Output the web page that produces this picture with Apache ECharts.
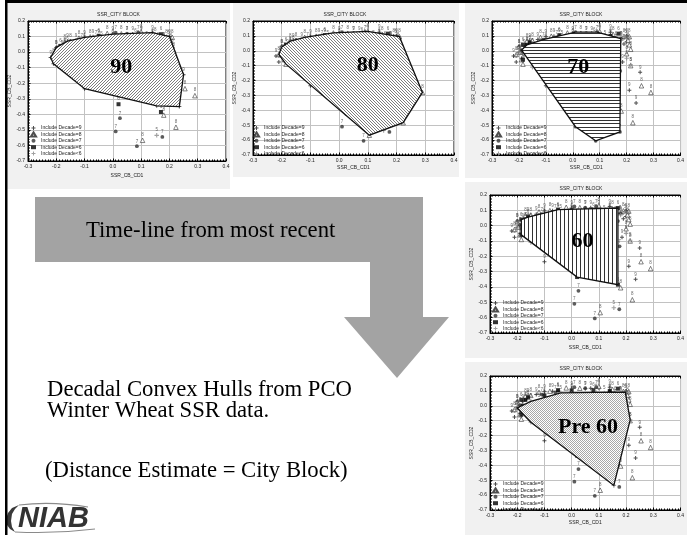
<!DOCTYPE html>
<html>
<head>
<meta charset="utf-8">
<script src="https://cdn.jsdelivr.net/npm/echarts@6/dist/echarts.min.js"></script>
<style>
  html, body { margin: 0; padding: 0; background: #fff; overflow: hidden; }
  #chart { width: 687px; height: 535px; }
</style>
</head>
<body>
<div id="chart"></div>
<script>
// PCO scores (SSR_CB_CD1, SSR_CB_CD2) of the winter wheat varieties, grouped by decade
const decade9 = [
  [-0.22, -0.035], [-0.21, -0.075], [-0.10, -0.235], [0.155, -0.345], [0.235, -0.35], [0.25, -0.145],
  [0.20, 0.10], [0.14, 0.125], [0.0, 0.115], [-0.10, 0.095], [-0.16, 0.07], [-0.20, 0.03],
  [-0.19, -0.05], [-0.20, -0.01], [-0.18, 0.03], [-0.13, 0.075], [-0.07, 0.098], [-0.05, 0.10],
  [0.05, 0.115], [0.07, 0.117], [0.10, 0.118], [0.18, 0.08], [0.19, 0.045], [0.20, 0.06],
  [0.185, -0.075], [0.21, -0.265]
];
const decade8 = [
  [-0.21, -0.025], [-0.185, -0.09], [0.105, -0.567], [0.223, -0.483], [0.29, -0.28], [0.21, 0.095],
  [0.10, 0.13], [-0.02, 0.12], [-0.12, 0.09], [-0.17, 0.065], [-0.20, 0.025],
  [0.255, -0.235], [0.18, -0.405], [0.215, -0.10], [0.205, 0.07], [0.21, 0.04], [0.215, 0.01],
  [0.20, -0.02], [-0.19, -0.06], [-0.195, -0.01], [-0.15, 0.07], [-0.08, 0.098], [0.03, 0.118],
  [0.15, 0.11], [0.19, 0.097]
];
const decade7 = [
  [-0.19, 0.005], [0.01, -0.51], [0.085, -0.605], [0.175, -0.545], [0.178, 0.082], [0.09, 0.125],
  [0.01, 0.125], [-0.11, 0.075], [-0.17, 0.04],
  [0.025, -0.425], [-0.14, -0.10], [0.176, -0.135], [-0.17, 0.0], [-0.06, 0.09], [0.05, 0.118],
  [0.14, 0.097], [0.16, 0.06], [0.17, 0.03]
];
const decade6 = [
  [-0.185, 0.04], [-0.185, -0.06], [0.02, -0.335], [0.17, -0.385], [0.17, 0.115], [-0.05, 0.105],
  [-0.16, 0.055],
  [-0.18, 0.0], [-0.17, 0.04], [-0.10, 0.07], [0.0, 0.10], [0.08, 0.105], [0.14, 0.10], [0.16, 0.08]
];
const decadePre6 = [
  [-0.20, -0.015], [-0.15, -0.11], [0.155, -0.535], [0.215, -0.095], [0.197, 0.092], [0.09, 0.09],
  [-0.04, 0.087], [-0.15, 0.03],
  [-0.18, -0.03], [-0.12, 0.03], [0.0, 0.08], [0.12, 0.085], [0.18, 0.07], [0.20, -0.05], [0.10, -0.20]
];

const decadeSets = [decade9, decade8, decade7, decade6, decadePre6];
const decadeNames = ['Include Decade=9', 'Include Decade=8', 'Include Decade=7', 'Include Decade=6', 'Include Decade<6'];
const decadeTags = ['9', '8', '7', '6', '5'];
const hullTitles = ['90', '80', '70', '60', 'Pre 60'];

const xRange = { min: -0.3, max: 0.4, interval: 0.1 };
const yRange = { min: -0.7, max: 0.2, interval: 0.1 };

// ---- layout of the five panels ----
const panels = [
  { grid: { left: 28, top: 21, width: 198, height: 140 }, bg: [7, 3, 223, 186], title: [118.5, 15], legend: [30, 125], labelAt: [0.03, -0.095], nameGapX: 12, fill: 'slashA' },
  { grid: { left: 253, top: 21, width: 201, height: 134 }, bg: [233, 3, 226, 174], title: [345, 15], legend: [253, 125], labelAt: [0.10, -0.095], nameGapX: 10, fill: 'slashB' },
  { grid: { left: 492, top: 21, width: 197, height: 134 }, bg: [465, 3, 230, 175], title: [581, 15], legend: [495, 125], labelAt: [0.02, -0.11], nameGapX: 10, fill: 'horiz' },
  { grid: { left: 490, top: 195, width: 199, height: 138 }, bg: [465, 182, 230, 176], title: [581, 189], legend: [492, 300], labelAt: [0.04, -0.105], nameGapX: 12, fill: 'vert' },
  { grid: { left: 490, top: 376, width: 199, height: 134 }, bg: [465, 362, 230, 175], title: [581, 369], legend: [492, 481], labelAt: [0.06, -0.145], nameGapX: 10, fill: 'dots' }
];

// ---- hatch tiles for the hull fills ----
function tile(w, h, draw) {
  const c = document.createElement('canvas');
  c.width = w; c.height = h;
  const g = c.getContext('2d');
  g.fillStyle = '#fff';
  g.fillRect(0, 0, w, h);
  draw(g);
  return { image: c, repeat: 'repeat' };
}
const fills = {
  slashA: tile(3, 3, g => { g.fillStyle = '#7c7c7c'; g.fillRect(2, 0, 1, 1); g.fillRect(1, 1, 1, 1); g.fillRect(0, 2, 1, 1); }),
  slashB: tile(3, 3, g => { g.fillStyle = '#7c7c7c'; g.fillRect(0, 0, 1, 1); g.fillRect(1, 1, 1, 1); g.fillRect(2, 2, 1, 1); }),
  horiz: tile(4, 10, g => { g.fillStyle = '#333'; g.fillRect(0, 0, 4, 1); g.fillRect(0, 3, 4, 1); g.fillRect(0, 7, 4, 1); }),
  vert: tile(4, 4, g => { g.fillStyle = '#333'; g.fillRect(0, 0, 1, 4); }),
  dots: tile(2, 2, g => { g.fillStyle = '#a8a8a8'; g.fillRect(0, 0, 1, 1); g.fillRect(1, 1, 1, 1); })
};

// ---- convex hull (monotone chain) ----
function convexHull(points) {
  const p = points.slice().sort((a, b) => a[0] - b[0] || a[1] - b[1]);
  const cross = (o, a, b) => (a[0] - o[0]) * (b[1] - o[1]) - (a[1] - o[1]) * (b[0] - o[0]);
  const lower = [], upper = [];
  for (const q of p) {
    while (lower.length >= 2 && cross(lower[lower.length - 2], lower[lower.length - 1], q) <= 0) lower.pop();
    lower.push(q);
  }
  for (let i = p.length - 1; i >= 0; i--) {
    const q = p[i];
    while (upper.length >= 2 && cross(upper[upper.length - 2], upper[upper.length - 1], q) <= 0) upper.pop();
    upper.push(q);
  }
  lower.pop(); upper.pop();
  return lower.concat(upper);
}

// ---- marker styles per decade ----
const markerStyles = [
  { symbol: 'path://M3,0H5V3H8V5H5V8H3V5H0V3H3Z', symbolSize: 4, itemStyle: { color: '#222' } },
  { symbol: 'triangle', symbolSize: 4.5, itemStyle: { color: '#fff', borderColor: '#222', borderWidth: 0.7 } },
  { symbol: 'circle', symbolSize: 3.8, itemStyle: { color: '#333' } },
  { symbol: 'rect', symbolSize: 4, itemStyle: { color: '#000' } },
  { symbol: 'path://M3,0H5V3H8V5H5V8H3V5H0V3H3Z', symbolSize: 4.5, itemStyle: { color: '#8a8a8a' } }
];

const axisFont = { fontFamily: 'Liberation Sans', fontSize: 5, color: '#222' };

const grids = [], xAxes = [], yAxes = [], series = [], legends = [];

panels.forEach((pn, i) => {
  grids.push(Object.assign({ show: true, backgroundColor: '#fff', borderColor: '#000', borderWidth: 1 }, pn.grid));
  xAxes[i] = {
    gridIndex: i, type: 'value', min: xRange.min, max: xRange.max, interval: xRange.interval,
    name: 'SSR_CB_CD1', nameLocation: 'middle', nameGap: pn.nameGapX, nameTextStyle: axisFont,
    axisLine: { onZero: false, lineStyle: { color: '#000', width: 1 } },
    axisTick: { inside: true, length: 2.5, lineStyle: { color: '#000' } },
    minorTick: { show: true, splitNumber: 10, length: 1.5, lineStyle: { color: '#000' } },
    axisLabel: Object.assign({ margin: 3, formatter: v => v.toFixed(1) }, axisFont),
    splitLine: { lineStyle: { color: '#c2c2c2', width: 1 } }
  };
  xAxes[i + panels.length] = {
    gridIndex: i, type: 'value', position: 'top', min: xRange.min, max: xRange.max, interval: xRange.interval,
    axisLine: { onZero: false, lineStyle: { color: '#000', width: 1 } },
    axisTick: { inside: true, length: 2.5, lineStyle: { color: '#000' } },
    minorTick: { show: true, splitNumber: 10, length: 1.5, lineStyle: { color: '#000' } },
    axisLabel: { show: false }, splitLine: { show: false }
  };
  yAxes[i] = {
    gridIndex: i, type: 'value', min: yRange.min, max: yRange.max, interval: yRange.interval,
    name: 'SSR_CB_CD2', nameLocation: 'middle', nameRotate: 90, nameGap: 13, nameTextStyle: axisFont,
    axisLine: { onZero: false, lineStyle: { color: '#000', width: 1 } },
    axisTick: { inside: true, length: 2.5, lineStyle: { color: '#000' } },
    minorTick: { show: true, splitNumber: 10, length: 1.5, lineStyle: { color: '#000' } },
    axisLabel: Object.assign({ margin: 3, formatter: v => v.toFixed(1) }, axisFont),
    splitLine: { lineStyle: { color: '#c2c2c2', width: 1 } }
  };

  decadeSets.forEach((pts, d) => {
    series.push(Object.assign({
      type: 'scatter', name: decadeNames[d], xAxisIndex: i, yAxisIndex: i, data: pts,
      silent: true, animation: false, z: 2,
      label: { show: true, formatter: decadeTags[d], position: 'top', distance: 0.5,
               fontFamily: 'Liberation Sans', fontSize: 4.5, color: '#444' }
    }, markerStyles[d]));
  });

  const hull = convexHull(decadeSets[i]);
  series.push({
    type: 'custom', name: 'hull' + hullTitles[i], xAxisIndex: i, yAxisIndex: i, data: hull,
    silent: true, animation: false, z: 5, clip: false,
    renderItem: (params, api) => {
      if (params.dataIndex !== 0) return null;
      const pts = hull.map(p => api.coord(p));
      const c = api.coord(pn.labelAt);
      return {
        type: 'group',
        children: [
          { type: 'polygon', shape: { points: pts },
            style: { fill: fills[pn.fill], stroke: '#111', lineWidth: 1.3 } },
          { type: 'text', x: c[0], y: c[1],
            style: { text: hullTitles[i], fill: '#000', font: 'bold 22px "Liberation Serif"',
                     align: 'center', verticalAlign: 'middle' } }
        ]
      };
    }
  });

  legends.push({
    left: pn.legend[0], top: pn.legend[1], orient: 'vertical', padding: 0,
    itemWidth: 5, itemHeight: 4, itemGap: 0.4, selectedMode: false,
    textStyle: { fontFamily: 'Liberation Sans', fontSize: 5, lineHeight: 6, color: '#222' },
    data: decadeNames
  });
});

// ---- slide decorations: panels, frame, arrow, captions, logo ----
const graphics = [];
panels.forEach(pn => {
  graphics.push({ type: 'rect', z: -10, shape: { x: pn.bg[0], y: pn.bg[1], width: pn.bg[2], height: pn.bg[3] },
                  style: { fill: '#f1f1f1' } });
  graphics.push({ type: 'text', x: pn.title[0], y: pn.title[1], z: 10,
                  style: { text: 'SSR_CITY BLOCK', font: '5px "Liberation Sans"', fill: '#222',
                           textAlign: 'center', textVerticalAlign: 'middle' } });
});
graphics.push({ type: 'rect', z: 20, shape: { x: 5, y: 0, width: 682, height: 3 }, style: { fill: '#000' } });
graphics.push({ type: 'rect', z: 20, shape: { x: 5, y: 0, width: 2.5, height: 535 }, style: { fill: '#000' } });
graphics.push({ type: 'polygon', z: 10,
  shape: { points: [[35, 197], [423, 197], [423, 317], [449, 317], [397, 378], [344, 317], [370, 317], [370, 262], [35, 262]] },
  style: { fill: '#a3a3a3' } });

function caption(text, x, y) {
  graphics.push({ type: 'text', x: x, y: y, z: 11,
    style: { text: text, font: '22.7px "Liberation Serif"', fill: '#000',
             textAlign: 'left', textVerticalAlign: 'middle' } });
}
caption('Time-line from most recent', 86, 231);
caption('Decadal Convex Hulls from PCO', 47, 390);
caption('Winter Wheat SSR data.', 47, 411.5);
caption('(Distance Estimate = City Block)', 45, 471);

// NIAB logo: swoosh round the lettering
graphics.push({ type: 'polygon', z: 11,
  shape: { points: [[19, 505], [12, 508], [8, 513], [6, 519], [7, 525], [10, 529], [15, 532], [12, 527], [11, 521], [12, 514], [15, 509]] },
  style: { fill: '#3a3a3a' } });
graphics.push({ type: 'bezierCurve', z: 11, shape: { x1: 19, y1: 505, x2: 88, y2: 507, cpx1: 52, cpy1: 501 },
  style: { fill: null, stroke: '#8a8a8a', lineWidth: 1.1 } });
graphics.push({ type: 'bezierCurve', z: 11, shape: { x1: 15, y1: 532, x2: 95, y2: 529, cpx1: 55, cpy1: 534 },
  style: { fill: null, stroke: '#8a8a8a', lineWidth: 1.1 } });
graphics.push({ type: 'text', x: 18, y: 519, z: 12,
  style: { text: 'NIAB', font: 'italic bold 29px "Liberation Sans"', fill: '#333',
           textAlign: 'left', textVerticalAlign: 'middle' } });

const chart = echarts.init(document.getElementById('chart'), null, { renderer: 'canvas' });
chart.setOption({
  backgroundColor: '#fff',
  animation: false,
  grid: grids,
  xAxis: xAxes,
  yAxis: yAxes,
  legend: legends,
  series: series,
  graphic: { elements: graphics }
});
</script>
</body>
</html>
